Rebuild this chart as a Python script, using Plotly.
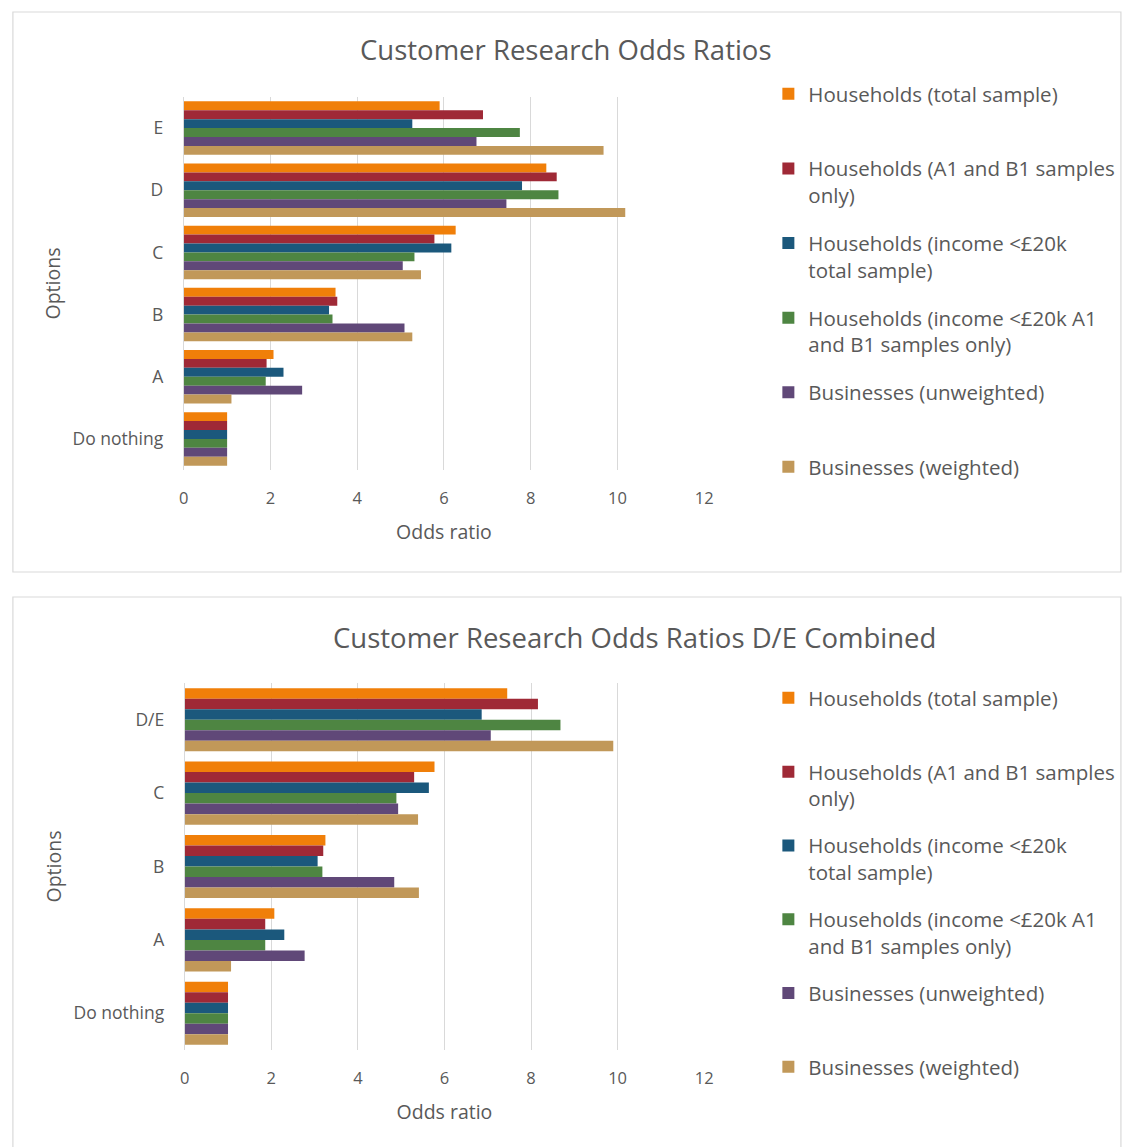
import plotly.graph_objects as go

W, H = 1123, 1147

series_names = [
    "Households (total sample)",
    "Households (A1 and B1 samples<br>only)",
    "Households (income <£20k<br>total sample)",
    "Households (income <£20k A1<br>and B1 samples only)",
    "Businesses (unweighted)",
    "Businesses (weighted)",
]
colors = ["#F07F09", "#9F2936", "#1B587C", "#4E8542", "#604878", "#C19859"]

# Top chart
cats_top = ["E", "D", "C", "B", "A", "Do nothing"]
hh_total = [5.9, 8.36, 6.27, 3.5, 2.07, 1.0]
hh_a1b1 = [6.9, 8.6, 5.78, 3.54, 1.91, 1.0]
hh_inc = [5.27, 7.8, 6.17, 3.35, 2.3, 1.0]
hh_inc_a1b1 = [7.75, 8.64, 5.32, 3.43, 1.89, 1.0]
bus_unw = [6.75, 7.44, 5.05, 5.09, 2.73, 1.0]
bus_w = [9.68, 10.18, 5.47, 5.27, 1.1, 1.0]

# Bottom chart
cats_bot = ["D/E", "C", "B", "A", "Do nothing"]
hh_total2 = [7.45, 5.77, 3.25, 2.07, 1.0]
hh_a1b1_2 = [8.16, 5.3, 3.2, 1.86, 1.0]
hh_inc2 = [6.86, 5.64, 3.07, 2.3, 1.0]
hh_inc_a1b1_2 = [8.68, 4.89, 3.18, 1.86, 1.0]
bus_unw2 = [7.07, 4.93, 4.84, 2.77, 1.0]
bus_w2 = [9.9, 5.39, 5.41, 1.07, 1.0]

x_ticks = [0, 2, 4, 6, 8, 10, 12]

top_series = [hh_total, hh_a1b1, hh_inc, hh_inc_a1b1, bus_unw, bus_w]
bot_series = [hh_total2, hh_a1b1_2, hh_inc2, hh_inc_a1b1_2, bus_unw2, bus_w2]

FONT = "Open Sans"
GRAY = "#595959"
GRID = "#D9D9D9"


def px_x(p):
    return p / W


def px_y(p):
    return 1 - p / H


def legend_label(name):
    return name if "<br>" in name else name + "<br>\u00a0"


fig = go.Figure()
for i, (name, col, vals) in enumerate(zip(series_names, colors, top_series)):
    fig.add_trace(go.Bar(
        x=vals, y=cats_top, orientation="h", name=legend_label(name),
        marker=dict(color=col, line=dict(width=0)),
        xaxis="x", yaxis="y", legend="legend", legendgroup=f"t{i}",
    ))
for i, (name, col, vals) in enumerate(zip(series_names, colors, bot_series)):
    fig.add_trace(go.Bar(
        x=vals, y=cats_bot, orientation="h", name=legend_label(name),
        marker=dict(color=col, line=dict(width=0)),
        xaxis="x2", yaxis="y2", legend="legend2", legendgroup=f"b{i}",
    ))

xcommon = dict(
    range=[0, 12], tickvals=x_ticks, showgrid=True, gridcolor=GRID, gridwidth=1,
    zeroline=False, showline=False, ticks="", ticklabelstandoff=16,
    tickfont=dict(family=FONT, size=16.5, color=GRAY),
    title=dict(text="Odds ratio", font=dict(family=FONT, size=19.5, color=GRAY), standoff=17),
    fixedrange=True,
)
ycommon = dict(
    autorange="reversed", type="category", showgrid=False, zeroline=False,
    showline=True, linecolor=GRID, linewidth=1, ticks="", ticklabelstandoff=16,
    tickfont=dict(family=FONT, size=17.5, color=GRAY),
    title=dict(text="Options", font=dict(family=FONT, size=19.5, color=GRAY), standoff=6),
    fixedrange=True,
)

legcommon = dict(
    xanchor="left", yanchor="top", valign="top", bgcolor="rgba(0,0,0,0)",
    font=dict(family=FONT, size=20.5, color=GRAY),
    itemclick=False, itemdoubleclick=False,
)

fig.update_layout(
    width=W, height=H, margin=dict(l=0, r=0, t=0, b=0),
    paper_bgcolor="white", plot_bgcolor="white",
    barmode="group", bargap=0.14, bargroupgap=0,
    xaxis=dict(domain=[px_x(181), px_x(708)], anchor="y", **xcommon),
    yaxis=dict(domain=[px_y(470), px_y(97)], anchor="x",
               categoryorder="array", categoryarray=cats_top, **ycommon),
    xaxis2=dict(domain=[px_x(182), px_x(708)], anchor="y2", **xcommon),
    yaxis2=dict(domain=[px_y(1050), px_y(683)], anchor="x2",
                categoryorder="array", categoryarray=cats_bot, **ycommon),
    legend=dict(x=px_x(773), y=px_y(74), tracegroupgap=18.3, **legcommon),
    legend2=dict(x=px_x(773), y=px_y(678), tracegroupgap=17.5, **legcommon),
    annotations=[
        dict(text="Customer Research Odds Ratios", x=px_x(568), y=px_y(49),
             xref="paper", yref="paper", xanchor="center", yanchor="middle",
             showarrow=False, font=dict(family=FONT, size=27.5, color=GRAY)),
        dict(text="Customer Research Odds Ratios D/E Combined", x=px_x(637), y=px_y(637),
             xref="paper", yref="paper", xanchor="center", yanchor="middle",
             showarrow=False, font=dict(family=FONT, size=27.5, color=GRAY)),
    ],
    shapes=[
        dict(type="rect", xref="paper", yref="paper",
             x0=px_x(8), x1=px_x(1130), y0=px_y(572), y1=px_y(12),
             line=dict(color=GRID, width=1.2), fillcolor="rgba(0,0,0,0)"),
        dict(type="rect", xref="paper", yref="paper",
             x0=px_x(8), x1=px_x(1130), y0=px_y(1160), y1=px_y(597),
             line=dict(color=GRID, width=1.2), fillcolor="rgba(0,0,0,0)"),
    ],
    showlegend=True,
)

fig.write_html(
    "out.html",
    post_script="document.body.style.margin='0';document.body.style.overflow='hidden';",
)
